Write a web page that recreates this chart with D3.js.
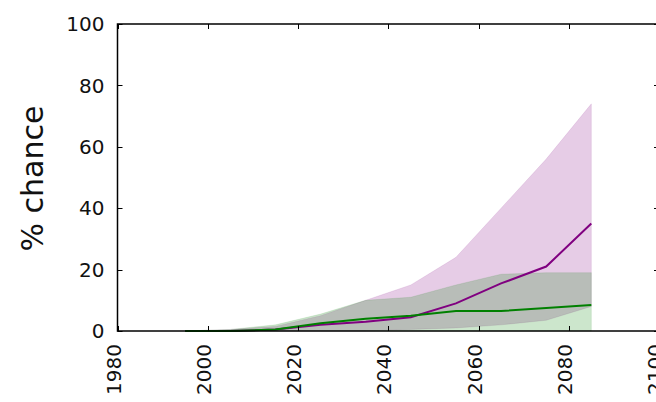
<!DOCTYPE html>
<html>
<head>
<meta charset="utf-8">
<script src="https://cdn.jsdelivr.net/npm/d3@7"></script>
<style>
  body { margin: 0; background: #fff; }
  text { font-family: "DejaVu Sans", sans-serif; fill: #111; }
</style>
</head>
<body>
<div id="chart"></div>
<script>
// Decade midpoints
var years = [1995, 2005, 2015, 2025, 2035, 2045, 2055, 2065, 2075, 2085];

// Purple series
var purpleMid = [0, 0, 0.5, 2, 3, 4.5, 9, 15.5, 21, 35];
var purpleLow = [0, 0, 0, 0, 0, 0.5, 1, 2, 3.5, 8];
var purpleHigh = [0, 0.5, 1.5, 5, 10, 15, 24, 40, 56, 74];

// Green series
var greenMid = [0, 0, 0.5, 2.5, 4, 5, 6.5, 6.5, 7.5, 8.5];
var greenLow = [0, 0, 0, 0, 0, 0, 0, 0, 0, 0];
var greenHigh = [0, 0.5, 2, 5.5, 10, 11, 15, 18.5, 19, 19];

var xTicks = [1980, 2000, 2020, 2040, 2060, 2080, 2100];
var yTicks = [0, 20, 40, 60, 80, 100];

var width = 656;
var height = 402;

var svg = d3.select('#chart')
  .append('svg')
  .attr('width', width)
  .attr('height', height);

var x = d3.scaleLinear().domain([1980, 2100]).range([117.5, 659]);
var y = d3.scaleLinear().domain([0, 100]).range([331, 24]);

var series = [
  { color: '#800080', mid: purpleMid, low: purpleLow, high: purpleHigh },
  { color: '#008000', mid: greenMid, low: greenLow, high: greenHigh }
];

var area = d3.area()
  .x(function (d) { return x(d.year); })
  .y0(function (d) { return y(d.low); })
  .y1(function (d) { return y(d.high); });

var line = d3.line()
  .x(function (d) { return x(d.year); })
  .y(function (d) { return y(d.value); });

// Bands first, then median lines
series.forEach(function (s) {
  var rows = years.map(function (yr, i) {
    return { year: yr, low: s.low[i], high: s.high[i] };
  });
  svg.append('path')
    .attr('d', area(rows))
    .attr('fill', s.color)
    .attr('fill-opacity', 0.2)
    .attr('stroke', s.color)
    .attr('stroke-opacity', 0.1)
    .attr('stroke-width', 1);
});

series.forEach(function (s) {
  var rows = years.map(function (yr, i) {
    return { year: yr, value: s.mid[i] };
  });
  svg.append('path')
    .attr('d', line(rows))
    .attr('fill', 'none')
    .attr('stroke', s.color)
    .attr('stroke-width', 2);
});

// Frame
var x0 = x(1980), x1 = x(2100), y0 = y(0), y1 = y(100);
svg.append('rect')
  .attr('x', x0)
  .attr('y', y1)
  .attr('width', x1 - x0)
  .attr('height', y0 - y1)
  .attr('fill', 'none')
  .attr('stroke', '#000')
  .attr('stroke-width', 1.5);

// Inward ticks on all four sides
var tickLen = 5;
xTicks.forEach(function (t) {
  var px = Math.round(x(t)) + 0.5;
  svg.append('line').attr('x1', px).attr('x2', px)
    .attr('y1', y0).attr('y2', y0 - tickLen).attr('stroke', '#000');
  svg.append('line').attr('x1', px).attr('x2', px)
    .attr('y1', y1).attr('y2', y1 + tickLen).attr('stroke', '#000');
  svg.append('text')
    .attr('transform', 'translate(' + (x(t) + 3) + ',' + (y0 + 13) + ') rotate(-90)')
    .attr('text-anchor', 'end')
    .attr('font-size', 20)
    .text(t);
});

yTicks.forEach(function (t) {
  var py = Math.round(y(t)) + 0.5;
  svg.append('line').attr('x1', x0).attr('x2', x0 + tickLen)
    .attr('y1', py).attr('y2', py).attr('stroke', '#000');
  svg.append('line').attr('x1', x1).attr('x2', x1 - tickLen)
    .attr('y1', py).attr('y2', py).attr('stroke', '#000');
  svg.append('text')
    .attr('x', x0 - 13)
    .attr('y', y(t))
    .attr('dy', '0.36em')
    .attr('text-anchor', 'end')
    .attr('font-size', 20)
    .text(t);
});

// Axis label
svg.append('text')
  .attr('transform', 'translate(43,' + (y(50) + 1) + ') rotate(-90)')
  .attr('text-anchor', 'middle')
  .attr('font-size', 30)
  .text('% chance');
</script>
</body>
</html>
